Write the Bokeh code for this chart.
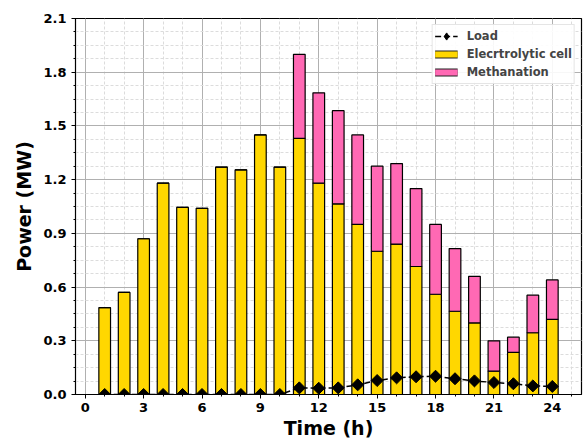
import numpy as np
from bokeh.plotting import figure
from bokeh.models import (ColumnDataSource, Legend, LegendItem, FixedTicker,
                          Range1d)
from bokeh.embed import file_html
from bokeh.resources import INLINE

hours = list(range(1, 25))
electrolytic = [0.485, 0.57, 0.87, 1.18, 1.045, 1.04, 1.27, 1.255, 1.45, 1.27,
                1.43, 1.18, 1.065, 0.95, 0.80, 0.84, 0.715, 0.56, 0.465, 0.40,
                0.13, 0.235, 0.345, 0.42]
total = [0.485, 0.57, 0.87, 1.18, 1.045, 1.04, 1.27, 1.255, 1.45, 1.27,
         1.90, 1.685, 1.585, 1.45, 1.275, 1.29, 1.15, 0.95, 0.815, 0.66,
         0.30, 0.32, 0.555, 0.64]
methanation = [round(t - e, 3) for t, e in zip(total, electrolytic)]
load = [0.0, 0.0, 0.0, 0.0, 0.0, 0.0, 0.0, 0.0, 0.0, 0.0,
        0.037, 0.035, 0.037, 0.054, 0.078, 0.093, 0.099, 0.102, 0.088, 0.076,
        0.067, 0.06, 0.048, 0.045]

x_ticks = [0, 3, 6, 9, 12, 15, 18, 21, 24]
y_ticks = [0.0, 0.3, 0.6, 0.9, 1.2, 1.5, 1.8, 2.1]

YELLOW = "#FFD700"
PINK = "#FF69B4"

src = ColumnDataSource(dict(x=hours, e=electrolytic, m=methanation,
                            top=[e + m for e, m in zip(electrolytic, methanation)],
                            load=load))

p = figure(width=585, height=441, output_backend="svg", toolbar_location=None,
           x_range=Range1d(-0.5, 25.5), y_range=Range1d(0, 2.1),
           min_border_left=75, min_border_right=4, min_border_top=18,
           min_border_bottom=47)

FONT = "DejaVu Sans"

r_e = p.vbar(x="x", width=0.6, bottom=0, top="e", source=src,
             fill_color=YELLOW, line_color="black", line_width=1.2)
r_m = p.vbar(x="x", width=0.6, bottom="e", top="top", source=src,
             fill_color=PINK, line_color="black", line_width=1.2)
r_l = p.line(x="x", y="load", source=src, line_color="black", line_width=1.5,
             line_dash="6 3")
r_s = p.scatter(x="x", y="load", source=src, marker="square", angle=np.pi / 4,
                size=8.5, fill_color="black", line_color="black")

# legend-only proxy glyphs, placed outside the visible range
off_x = [-100, -99]
off_y = [-100, -100]
leg_diamond = p.scatter(x=off_x[:1], y=off_y[:1], marker="diamond", size=14,
                        fill_color="black", line_color="black")
leg_e_border = p.line(x=off_x, y=off_y, line_color="#222222", line_width=8)
leg_e_fill = p.line(x=off_x, y=off_y, line_color=YELLOW, line_width=6)
leg_m_border = p.line(x=off_x, y=off_y, line_color="#222222", line_width=8)
leg_m_fill = p.line(x=off_x, y=off_y, line_color=PINK, line_width=6)

legend = Legend(items=[LegendItem(label="Load", renderers=[r_l, leg_diamond]),
                       LegendItem(label="Elecrtrolytic cell",
                                  renderers=[leg_e_border, leg_e_fill]),
                       LegendItem(label="Methanation",
                                  renderers=[leg_m_border, leg_m_fill])],
                location="top_right")
legend.label_text_font = FONT
legend.label_text_font_style = "bold"
legend.label_text_font_size = "11.5px"
legend.border_line_color = "#cccccc"
legend.border_line_width = 1
legend.background_fill_alpha = 0.9
legend.spacing = 0
legend.padding = 2
legend.margin = 6
legend.glyph_width = 23
legend.glyph_height = 18
legend.label_height = 16
legend.label_standoff = 9
p.add_layout(legend)

p.xaxis.ticker = FixedTicker(ticks=x_ticks, minor_ticks=list(range(0, 26)))
p.yaxis.ticker = FixedTicker(ticks=y_ticks,
                             minor_ticks=[round(i * 0.075, 3) for i in range(29)])
p.yaxis.major_label_overrides = {v: f"{v:.1f}" for v in y_ticks}

p.xaxis.axis_label = "Time (h)"
p.yaxis.axis_label = "Power (MW)"
for ax in (p.xaxis, p.yaxis):
    ax.axis_label_text_font = FONT
    ax.axis_label_text_font_style = "bold"
    ax.axis_label_text_font_size = "19px"
    ax.axis_label_text_color = "black"
    ax.major_label_text_font = FONT
    ax.major_label_text_font_style = "bold"
    ax.major_label_text_font_size = "13px"
    ax.major_label_text_color = "black"
    ax.axis_line_color = "black"
    ax.major_tick_line_color = "black"
    ax.minor_tick_line_color = "black"
    ax.major_tick_out = 4
    ax.major_tick_in = 0
    ax.minor_tick_out = 2
    ax.minor_tick_in = 0
p.xaxis.major_label_standoff = 4
p.xaxis.axis_label_standoff = 2
p.yaxis.axis_label_standoff = 5

p.xgrid.grid_line_color = "#b0b0b0"
p.ygrid.grid_line_color = "#b0b0b0"
p.xgrid.minor_grid_line_color = "#dcdcdc"
p.ygrid.minor_grid_line_color = "#dcdcdc"
p.xgrid.minor_grid_line_dash = "3 2"
p.ygrid.minor_grid_line_dash = "3 2"

p.outline_line_color = "black"
p.outline_line_width = 1.2
p.background_fill_color = "white"
p.border_fill_color = "white"

open("out.html", "w").write(file_html(p, INLINE))
